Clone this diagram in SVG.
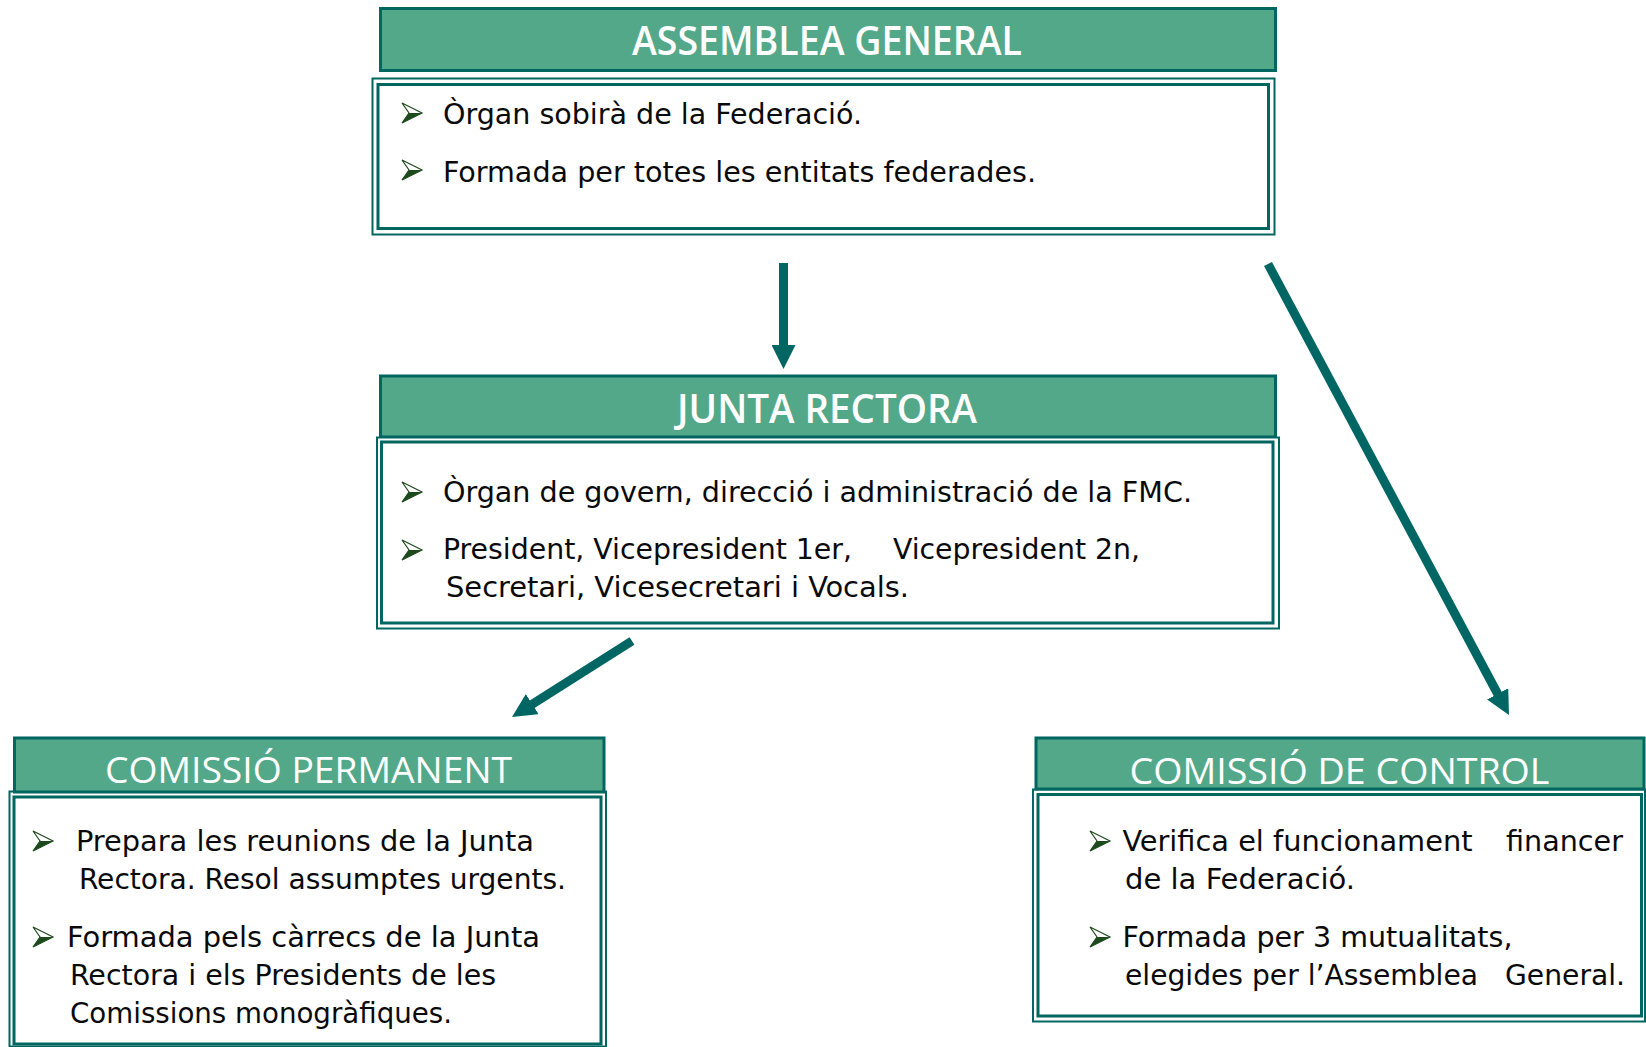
<svg xmlns="http://www.w3.org/2000/svg" xmlns:xlink="http://www.w3.org/1999/xlink" width="1646" height="1047" viewBox="0 0 1646 1047">
<style>
.hdr{fill:#54A88A;stroke:#006660;stroke-width:3}
.outer{fill:#fff;stroke:#006660;stroke-width:2}
.inner{fill:none;stroke:#006660;stroke-width:3}
.title{font-family:'Open Sans','Liberation Sans',sans-serif;font-size:40px;font-weight:600;fill:#fff}
.title2{font-family:'Open Sans','Liberation Sans',sans-serif;font-size:37px;fill:#fff}
.body{font-family:'DejaVu Sans Condensed','DejaVu Sans',sans-serif;font-stretch:condensed;font-size:29px;fill:#0a0a0a}
.conn{stroke:#006664;stroke-width:9;fill:none;marker-end:url(#ah)}
</style>
<defs>
<marker id="ah" viewBox="0 0 24 24" markerWidth="24" markerHeight="24" markerUnits="userSpaceOnUse" refX="2" refY="12" orient="auto">
<path d="M0,0 L24,12 L0,24 Z" fill="#006664"/>
</marker>
<g id="bul">
<path d="M0,0 L20,10 L0,20 L7,10 Z" fill="#fff" stroke="#1c4a1c" stroke-width="1.2" stroke-linejoin="miter"/>
<path d="M7,10 L20,10 L0,20 Z" fill="#1c4a1c"/>
</g>
</defs>

<g id="assemblea">
<rect class="hdr" x="380.5" y="8.5" width="895" height="62"/>
<text class="title" x="827" y="55" text-anchor="middle" textLength="390" lengthAdjust="spacingAndGlyphs">ASSEMBLEA GENERAL</text>
<rect class="outer" x="372.5" y="78.5" width="902" height="156"/>
<rect class="inner" x="378" y="84.5" width="890.5" height="144"/>
<use xlink:href="#bul" x="402" y="103"/>
<text class="body" x="443" y="124" textLength="419" lengthAdjust="spacingAndGlyphs">Òrgan sobirà de la Federació.</text>
<use xlink:href="#bul" x="402" y="160"/>
<text class="body" x="443" y="182" textLength="593" lengthAdjust="spacingAndGlyphs">Formada per totes les entitats federades.</text>
</g>

<g id="junta">
<rect class="hdr" x="380.5" y="376" width="895" height="61"/>
<text class="title" x="827" y="423" text-anchor="middle" textLength="300" lengthAdjust="spacingAndGlyphs">JUNTA RECTORA</text>
<rect class="outer" x="377" y="437.5" width="902" height="191"/>
<rect class="inner" x="381.5" y="442" width="891.5" height="181"/>
<use xlink:href="#bul" x="402" y="482"/>
<text class="body" x="443" y="502" textLength="749" lengthAdjust="spacingAndGlyphs">Òrgan de govern, direcció i administració de la FMC.</text>
<use xlink:href="#bul" x="402" y="540"/>
<text class="body" x="443" y="559" textLength="409" lengthAdjust="spacingAndGlyphs">President, Vicepresident 1er,</text>
<text class="body" x="893" y="559" textLength="247" lengthAdjust="spacingAndGlyphs">Vicepresident 2n,</text>
<text class="body" x="446" y="597" textLength="463" lengthAdjust="spacingAndGlyphs">Secretari, Vicesecretari i Vocals.</text>
</g>

<g id="comissio-permanent">
<rect class="outer" x="9.5" y="791.5" width="596.5" height="255"/>
<rect class="inner" x="14" y="797" width="587" height="247"/>
<rect class="hdr" x="14.5" y="738" width="589.5" height="54"/>
<text class="title2" x="308.5" y="783" text-anchor="middle" textLength="407" lengthAdjust="spacingAndGlyphs">COMISSIÓ PERMANENT</text>
<use xlink:href="#bul" x="33" y="831"/>
<text class="body" x="76" y="851" textLength="458" lengthAdjust="spacingAndGlyphs">Prepara les reunions de la Junta</text>
<text class="body" x="79" y="889" textLength="487" lengthAdjust="spacingAndGlyphs">Rectora. Resol assumptes urgents.</text>
<use xlink:href="#bul" x="33" y="927"/>
<text class="body" x="67" y="947" textLength="473" lengthAdjust="spacingAndGlyphs">Formada pels càrrecs de la Junta</text>
<text class="body" x="70" y="985" textLength="426" lengthAdjust="spacingAndGlyphs">Rectora i els Presidents de les</text>
<text class="body" x="70" y="1023" textLength="382" lengthAdjust="spacingAndGlyphs">Comissions monogràfiques.</text>
</g>

<g id="comissio-control">
<rect class="outer" x="1033" y="789.5" width="612" height="232"/>
<rect class="inner" x="1038" y="794.5" width="603.5" height="221.5"/>
<rect class="hdr" x="1036" y="738" width="608" height="51"/>
<text class="title2" x="1339.5" y="784" text-anchor="middle" textLength="420" lengthAdjust="spacingAndGlyphs">COMISSIÓ DE CONTROL</text>
<use xlink:href="#bul" x="1090" y="831"/>
<text class="body" x="1122.5" y="851" textLength="350" lengthAdjust="spacingAndGlyphs">Verifica el funcionament</text>
<text class="body" x="1506" y="851" textLength="117" lengthAdjust="spacingAndGlyphs">financer</text>
<text class="body" x="1125" y="889" textLength="230" lengthAdjust="spacingAndGlyphs">de la Federació.</text>
<use xlink:href="#bul" x="1090" y="927"/>
<text class="body" x="1122.5" y="947" textLength="390" lengthAdjust="spacingAndGlyphs">Formada per 3 mutualitats,</text>
<text class="body" x="1125" y="985" textLength="353" lengthAdjust="spacingAndGlyphs">elegides per l’Assemblea</text>
<text class="body" x="1505" y="985" textLength="120" lengthAdjust="spacingAndGlyphs">General.</text>
</g>

<g id="connectors">
<line class="conn" x1="783.5" y1="263" x2="783.5" y2="347"/>
<line class="conn" x1="1268" y1="264" x2="1498.6" y2="695.6"/>
<line class="conn" x1="632" y1="641" x2="530.6" y2="705.2"/>
</g>
</svg>
